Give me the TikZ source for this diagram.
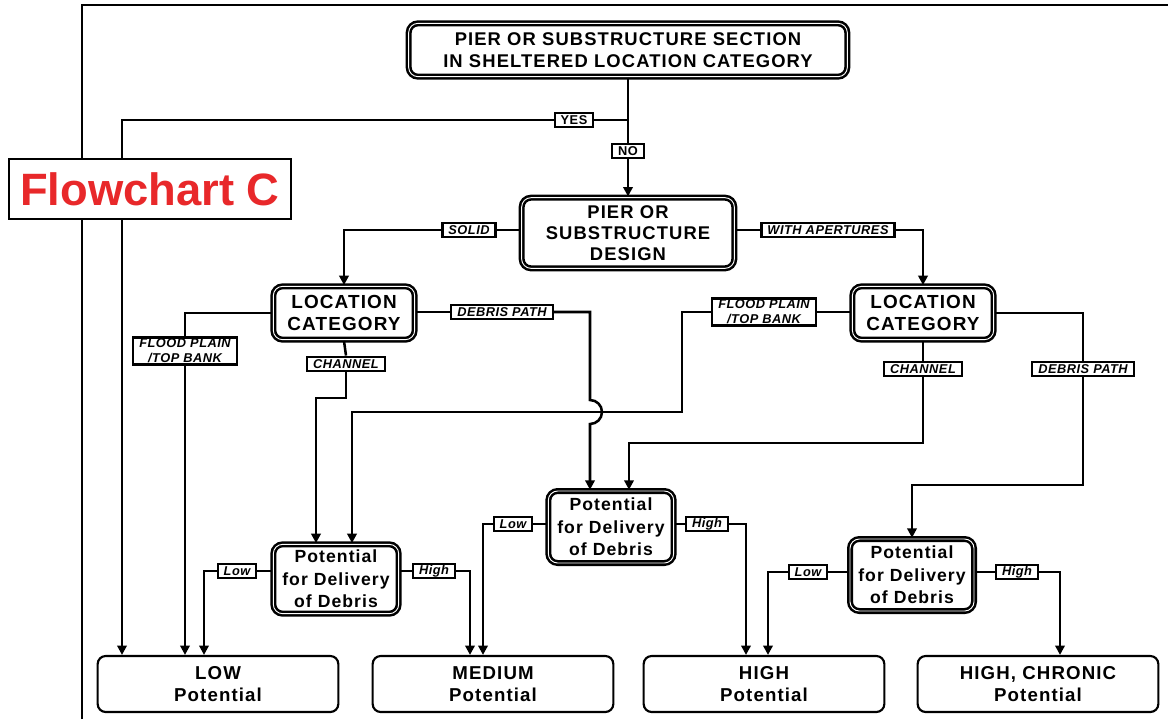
\documentclass[tikz,border=0pt]{standalone}
\usepackage{fontspec}
\setmainfont{Liberation Sans}
\newfontfamily\boxfont[LetterSpace=6]{Liberation Sans}
\newfontfamily\tagfont[LetterSpace=4]{Liberation Sans}
\usetikzlibrary{arrows.meta}

\definecolor{chartred}{RGB}{232,40,42}

\begin{document}
\begin{tikzpicture}[x=0.75pt,y=0.75pt,yscale=-1,xscale=1,
  dbox/.style={draw, double=white, line width=1.9pt, double distance=0.7pt,
    rounded corners=7pt, fill=white, align=center, inner sep=0pt,
    font=\boxfont\bfseries\fontsize{13.8}{16}\selectfont},
  endbox/.style={draw, line width=1.6pt, rounded corners=6pt, fill=white,
    minimum width=180.5pt, minimum height=42pt, align=center, inner sep=0pt,
    font=\boxfont\bfseries\fontsize{14}{16.5}\selectfont},
  tag/.style={draw, line width=1.7pt, fill=white, inner xsep=4.5pt, inner ysep=1pt,
    minimum height=11pt, align=center,
    font=\tagfont\bfseries\itshape\fontsize{9.6}{11.2}\selectfont},
  yn/.style={tag, font=\tagfont\bfseries\fontsize{9.6}{11.2}\selectfont},
  wire/.style={line width=1.9pt},
  arr/.style={wire, -{Triangle[length=7pt,width=7pt]}}]
\useasboundingbox (0,0) rectangle (1168,719);

%Frame
\draw [line width=2pt] (82,719) -- (82,5) -- (1168,5) ;

%Decision boxes
\node [dbox, minimum width=329pt, minimum height=40pt] (top) at (628,50)
  {PIER OR SUBSTRUCTURE SECTION\\IN SHELTERED LOCATION CATEGORY};
\node [dbox, minimum width=159.5pt, minimum height=53pt] (design) at (628,233)
  {PIER OR\\SUBSTRUCTURE\\DESIGN};
\node [dbox, minimum width=106pt, minimum height=40pt, font=\boxfont\bfseries\fontsize{14.2}{17}\selectfont] (locL) at (344,313)
  {LOCATION\\CATEGORY};
\node [dbox, minimum width=106pt, minimum height=40pt, font=\boxfont\bfseries\fontsize{14.2}{17}\selectfont] (locR) at (923,313)
  {LOCATION\\CATEGORY};
\node [dbox, minimum width=94pt, minimum height=52pt, font=\boxfont\bfseries\fontsize{13.2}{17}\selectfont] (pdL) at (336,579)
  {Potential\\for Delivery\\of Debris};
\node [dbox, minimum width=94pt, minimum height=54pt, font=\boxfont\bfseries\fontsize{13.2}{17}\selectfont] (pdM) at (611,527)
  {Potential\\for Delivery\\of Debris};
\node [dbox, minimum width=93pt, minimum height=54pt, font=\boxfont\bfseries\fontsize{13.2}{17}\selectfont] (pdR) at (912,575)
  {Potential\\for Delivery\\of Debris};

%Outcome boxes
\node [endbox] (low) at (218,684) {LOW\\Potential};
\node [endbox] (med) at (493,684) {MEDIUM\\Potential};
\node [endbox] (high) at (764,684) {HIGH\\Potential};
\node [endbox] (chron) at (1038,684) {HIGH, CHRONIC\\Potential};

% Text Node
\node [yn] (yes) at (574,120) {YES};
\node [yn] (no) at (628,151) {NO};
\node [tag] (solid) at (469,230) {SOLID};
\node [tag] (apt) at (828,230) {WITH APERTURES};
\node [tag] (fpL) at (185,351) {FLOOD PLAIN\\/TOP BANK};
\node [tag] (chL) at (346,364) {CHANNEL};
\node [tag] (dpL) at (502,312) {DEBRIS PATH};
\node [tag] (fpR) at (764,312) {FLOOD PLAIN\\/TOP BANK};
\node [tag] (chR) at (923,369) {CHANNEL};
\node [tag] (dpR) at (1083,369) {DEBRIS PATH};
\node [tag] (lowL) at (237,571) {Low};
\node [tag] (highL) at (434,571) {High};
\node [tag] (lowM) at (513,524) {Low};
\node [tag] (highM) at (707,524) {High};
\node [tag] (lowR) at (808,572) {Low};
\node [tag] (highR) at (1017,572) {High};

%Bends
\coordinate (yesc) at (122,120);
\coordinate (chLb) at (316,398);
\coordinate (hopA) at (590,400);
\coordinate (fpRc) at (682,412);
\coordinate (fpRd) at (352,412);
\coordinate (chRb) at (629,443);
\coordinate (dpRb) at (912,485);
\coordinate (lowLd) at (204,571);
\coordinate (highLd) at (470,571);
\coordinate (lowMd) at (483,524);
\coordinate (highMd) at (746,524);
\coordinate (lowRd) at (768,572);
\coordinate (highRd) at (1060,572);

%Straight Lines
\draw [wire] (top.south) -- (no.north) ;
\draw [arr] (no.south) -- (design.north) ;
\draw [wire] (top.south |- yes) -- (yes.east) ;
\draw [arr] (yes.west) -- (yesc) -- (yesc |- low.north) ;

\draw [wire] (design.west |- solid) -- (solid.east) ;
\draw [arr] (solid.west) -| (locL.north) ;
\draw [wire] (design.east |- apt) -- (apt.west) ;
\draw [arr] (apt.east) -| (locR.north) ;

\draw [wire] (locL.west) -| (fpL.north) ;
\draw [arr] (fpL.south) -- (fpL.south |- low.north) ;
\draw [wire] (locL.south) -- (chL.north) ;
\draw [arr] (chL.south) |- (chLb) -- (chLb |- pdL.north) ;
\draw [wire] (locL.east |- dpL) -- (dpL.west) ;
\draw [arr] (dpL.east) -| (hopA) arc (-90:90:12) -- (hopA |- pdM.north) ;

\draw [wire] (locR.west |- fpR) -- (fpR.east) ;
\draw [arr] (fpR.west) -| (fpRc) -- (fpRd) -- (fpRd |- pdL.north) ;
\draw [wire] (locR.south) -- (chR.north) ;
\draw [arr] (chR.south) |- (chRb) -- (chRb |- pdM.north) ;
\draw [wire] (locR.east) -| (dpR.north) ;
\draw [arr] (dpR.south) |- (dpRb) -- (dpRb |- pdR.north) ;

\draw [wire] (pdL.west |- lowL) -- (lowL.east) ;
\draw [arr] (lowL.west) -- (lowLd) -- (lowLd |- low.north) ;
\draw [wire] (pdL.east |- highL) -- (highL.west) ;
\draw [arr] (highL.east) -- (highLd) -- (highLd |- med.north) ;
\draw [wire] (pdM.west |- lowM) -- (lowM.east) ;
\draw [arr] (lowM.west) -- (lowMd) -- (lowMd |- med.north) ;
\draw [wire] (pdM.east |- highM) -- (highM.west) ;
\draw [arr] (highM.east) -- (highMd) -- (highMd |- high.north) ;
\draw [wire] (pdR.west |- lowR) -- (lowR.east) ;
\draw [arr] (lowR.west) -- (lowRd) -- (lowRd |- high.north) ;
\draw [wire] (pdR.east |- highR) -- (highR.west) ;
\draw [arr] (highR.east) -- (highRd) -- (highRd |- chron.north) ;

%Chart title
\node [draw, line width=1.6pt, fill=white, minimum width=211pt, minimum height=45pt,
  inner sep=0pt, text=chartred, font=\bfseries\fontsize{34}{38}\selectfont] (title) at (150,189) {Flowchart C};

\end{tikzpicture}
\end{document}
